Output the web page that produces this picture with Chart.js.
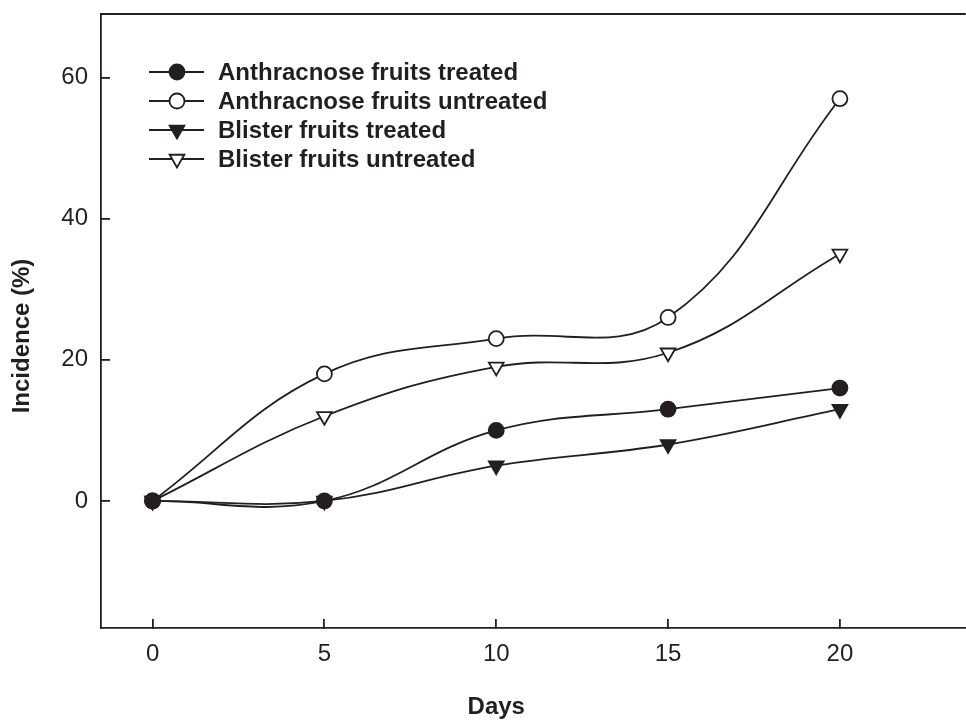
<!DOCTYPE html>
<html>
<head>
<meta charset="utf-8">
<script src="https://cdn.jsdelivr.net/npm/chart.js@4.4.1/dist/chart.umd.min.js"></script>
<style>
  html, body { margin: 0; padding: 0; background: #fff; overflow: hidden; }
  #wrap { width: 966px; height: 721px; overflow: hidden; }
</style>
</head>
<body>
<div id="wrap"><canvas id="chartIncidence" width="976" height="721"></canvas></div>
<script>
// Dados do gráfico
const days = [0, 5, 10, 15, 20];
const anthracnoseTreated = [0, 0, 10, 13, 16];
const anthracnoseUntreated = [0, 18, 23, 26, 57];
const blisterTreated = [0, 0, 5, 8, 13];
const blisterUntreated = [0, 12, 19, 21, 35];
const seriesLabels = [
    'Anthracnose fruits treated',
    'Anthracnose fruits untreated',
    'Blister fruits treated',
    'Blister fruits untreated',
];
const xTicks = [0, 5, 10, 15, 20];
const yTicks = [0, 20, 40, 60];
const xTitle = 'Days';
const yTitle = 'Incidence (%)';

const ink = '#231f20';
const fontFamily = '"Liberation Sans", Arial, sans-serif';

function toPoints(values) {
    return days.map((d, i) => ({ x: d, y: values[i] }));
}

function makeDataset(label, values, style, filled) {
    return {
        label: label,
        data: toPoints(values),
        borderColor: ink,
        borderWidth: 1.8,
        backgroundColor: filled ? ink : '#fff',
        pointStyle: style,
        pointRotation: style === 'triangle' ? 180 : 0,
        pointRadius: style === 'triangle' ? 8.5 : 7.5,
        pointBorderWidth: 1.8,
        pointBorderColor: ink,
        pointBackgroundColor: filled ? ink : '#fff',
        tension: 0.4,
        fill: false,
    };
}

// remove o espaço extra que o Chart.js reserva para os rótulos das pontas
function noEdgePadding(scale) {
    scale.paddingTop = 0;
    scale.paddingBottom = 0;
    scale.paddingLeft = 0;
    scale.paddingRight = 0;
}

// Legenda desenhada à mão (linha com marcador no meio), linha superior e títulos
const framePlugin = {
    id: 'frameAndLegend',
    beforeDatasetsDraw(chart) {
        const a = chart.chartArea;
        const ctx = chart.ctx;
        ctx.save();
        ctx.strokeStyle = ink;
        ctx.lineWidth = 1.8;
        ctx.beginPath();
        ctx.moveTo(a.left, a.top);
        ctx.lineTo(a.right, a.top);
        ctx.stroke();

        // títulos dos eixos
        const xs = chart.scales.x;
        const xMid = (xs.getPixelForValue(xTicks[0]) + xs.getPixelForValue(xTicks[xTicks.length - 1])) / 2;
        ctx.fillStyle = ink;
        ctx.font = 'bold 24px ' + fontFamily;
        ctx.textAlign = 'center';
        ctx.textBaseline = 'middle';
        ctx.fillText(xTitle, xMid, 707);

        ctx.translate(22, 336);
        ctx.rotate(-Math.PI / 2);
        ctx.fillText(yTitle, 0, 0);
        ctx.restore();
    },
    afterDraw(chart) {
        const ctx = chart.ctx;
        ctx.save();
        chart.data.datasets.forEach((ds, i) => {
            const y = 72 + i * 29;
            ctx.strokeStyle = ink;
            ctx.lineWidth = 1.8;
            ctx.beginPath();
            ctx.moveTo(149, y);
            ctx.lineTo(204, y);
            ctx.stroke();
            ctx.fillStyle = ds.pointBackgroundColor;
            ctx.strokeStyle = ds.pointBorderColor;
            ctx.lineWidth = ds.pointBorderWidth;
            Chart.helpers.drawPoint(ctx, {
                pointStyle: ds.pointStyle,
                rotation: ds.pointRotation,
                radius: ds.pointRadius,
                borderWidth: ds.pointBorderWidth,
            }, 177, y);
            ctx.fillStyle = ink;
            ctx.font = 'bold 24px ' + fontFamily;
            ctx.textBaseline = 'middle';
            ctx.textAlign = 'left';
            ctx.fillText(ds.label, 218, y + 1);
        });
        ctx.restore();
    },
};

const ctxIncidence = document.getElementById('chartIncidence').getContext('2d');
const chartIncidence = new Chart(ctxIncidence, {
    type: 'line',
    data: {
        datasets: [
            makeDataset(seriesLabels[0], anthracnoseTreated, 'circle', true),
            makeDataset(seriesLabels[1], anthracnoseUntreated, 'circle', false),
            makeDataset(seriesLabels[2], blisterTreated, 'triangle', true),
            makeDataset(seriesLabels[3], blisterUntreated, 'triangle', false),
        ],
    },
    options: {
        responsive: false,
        animation: false,
        layout: { padding: { top: 14, right: 0, bottom: 0, left: 0 } },
        plugins: {
            legend: { display: false },
            tooltip: { enabled: false },
        },
        scales: {
            x: {
                type: 'linear',
                min: -1.5,
                max: 23.66,
                afterBuildTicks: (scale) => { scale.ticks = xTicks.map(v => ({ value: v })); },
                afterFit: (scale) => { scale.height = 93; noEdgePadding(scale); },
                grid: {
                    drawOnChartArea: false,
                    drawTicks: true,
                    tickLength: -9,
                    color: ink,
                    lineWidth: 1.8,
                },
                border: { display: true, color: ink, width: 1.8 },
                ticks: {
                    padding: 21,
                    color: ink,
                    maxRotation: 0,
                    font: { family: fontFamily, size: 24 },
                },
                title: { display: false },
            },
            y: {
                min: -18,
                max: 69,
                afterBuildTicks: (scale) => { scale.ticks = yTicks.map(v => ({ value: v })); },
                afterFit: (scale) => { scale.width = 101; noEdgePadding(scale); },
                grid: {
                    drawOnChartArea: false,
                    drawTicks: true,
                    tickLength: -9,
                    color: ink,
                    lineWidth: 1.8,
                },
                border: { display: true, color: ink, width: 1.8 },
                ticks: {
                    padding: 22,
                    color: ink,
                    font: { family: fontFamily, size: 24 },
                },
                title: { display: false },
            },
        },
    },
    plugins: [framePlugin],
});
</script>
</body>
</html>
